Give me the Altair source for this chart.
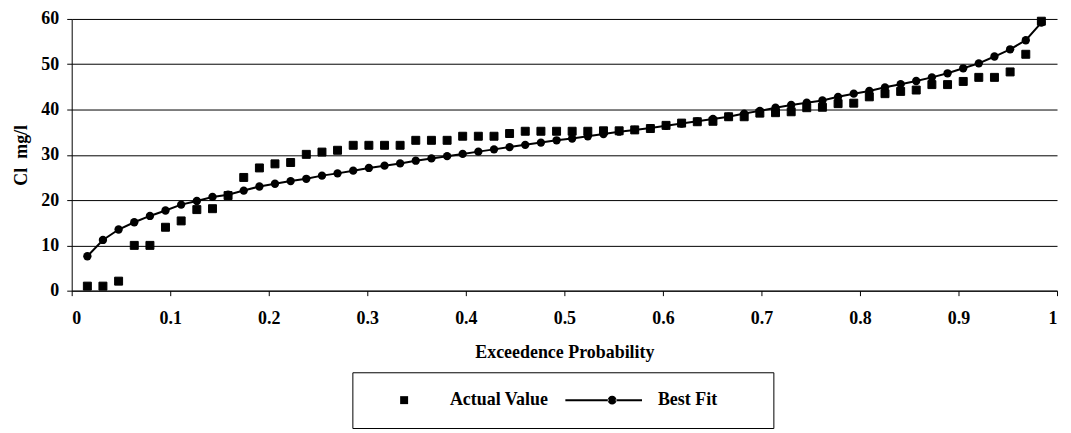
import altair as alt
import pandas as pd

# Exceedance probability plotting positions of the 62 samples
prob = [0.0159, 0.0317, 0.0476, 0.0635, 0.0794, 0.0952, 0.1111, 0.1270, 0.1429, 0.1587,
        0.1746, 0.1905, 0.2063, 0.2222, 0.2381, 0.2540, 0.2698, 0.2857, 0.3016, 0.3175,
        0.3333, 0.3492, 0.3651, 0.3810, 0.3968, 0.4127, 0.4286, 0.4444, 0.4603, 0.4762,
        0.4921, 0.5079, 0.5238, 0.5397, 0.5556, 0.5714, 0.5873, 0.6032, 0.6190, 0.6349,
        0.6508, 0.6667, 0.6825, 0.6984, 0.7143, 0.7302, 0.7460, 0.7619, 0.7778, 0.7937,
        0.8095, 0.8254, 0.8413, 0.8571, 0.8730, 0.8889, 0.9048, 0.9206, 0.9365, 0.9524,
        0.9683, 0.9841]

actual = [1, 1, 2.1, 10, 10, 14, 15.4, 17.9, 18.1, 21,
          25, 27.1, 28, 28.3, 30.1, 30.6, 31, 32.1, 32.1, 32.1,
          32.1, 33.2, 33.2, 33.2, 34.1, 34.1, 34.1, 34.7, 35.2, 35.2,
          35.2, 35.2, 35.2, 35.3, 35.3, 35.5, 35.8, 36.5, 37, 37.3,
          37.4, 38.4, 38.4, 39.2, 39.3, 39.5, 40.4, 40.5, 41.3, 41.4,
          42.8, 43.5, 44, 44.3, 45.5, 45.5, 46.2, 47.1, 47.1, 48.3,
          52.2, 59.5]

fit = [7.6, 11.2, 13.5, 15.1, 16.5, 17.7, 19.0, 19.8, 20.7, 21.2,
       22.1, 23.0, 23.6, 24.2, 24.7, 25.4, 25.9, 26.5, 27.1, 27.6,
       28.1, 28.7, 29.2, 29.7, 30.2, 30.7, 31.2, 31.7, 32.2, 32.7,
       33.2, 33.6, 34.1, 34.6, 35.1, 35.5, 35.9, 36.4, 36.9, 37.4,
       37.9, 38.4, 39.1, 39.7, 40.4, 41.0, 41.5, 42.0, 42.8, 43.5,
       44.1, 44.9, 45.6, 46.3, 47.1, 48.0, 49.1, 50.2, 51.7, 53.3,
       55.3, 59.2]

series_names = ["Actual Value", "Best Fit"]
x_ticks = [0, 0.1, 0.2, 0.3, 0.4, 0.5, 0.6, 0.7, 0.8, 0.9, 1]
y_ticks = [0, 10, 20, 30, 40, 50, 60]

FONT = "Liberation Serif"

actual_df = pd.DataFrame({"p": prob, "v": actual, "series": series_names[0]})
fit_df = pd.DataFrame({"p": prob, "v": fit, "series": series_names[1]})

x = alt.X("p:Q", scale=alt.Scale(domain=[0, 1], nice=False, zero=False),
          axis=alt.Axis(title="Exceedence Probability", values=x_ticks, format="~g",
                        grid=False, tickSize=5, labelPadding=14, titlePadding=16))
y = alt.Y("v:Q", scale=alt.Scale(domain=[0, 60], nice=False),
          axis=alt.Axis(title="Cl\u00a0\u00a0mg/l", values=y_ticks, grid=True,
                        tickSize=5, labelPadding=8, titlePadding=10))

# legend glyph for the fitted series (1 unit = 4 px): line pieces + dot, all filled;
# the leading move only widens the legend frame on the right
line_glyph = ("M35,0"
              "M-11.75,-0.25H-0.9V0.25H-11.75Z"
              "M0.9,-0.25H7.5V0.25H0.9Z"
              "M-1.1,0A1.1,1.1,0,1,0,1.1,0A1.1,1.1,0,1,0,-1.1,0Z")

legend = alt.Legend(
    title=None, orient="none", legendX=282, legendY=355, direction="horizontal",
    strokeColor="black", padding=19, fillColor="white",
    labelFont=FONT, labelFontSize=18, labelFontWeight="bold", labelColor="black",
    symbolOffset=24, labelOffset=37, columnPadding=14, symbolSize=64,
    symbolFillColor="black", symbolStrokeColor="black", symbolStrokeWidth=1.5,
)

line = alt.Chart(fit_df).mark_line(color="black", strokeWidth=2).encode(x=x, y=y)
dots = alt.Chart(fit_df).mark_point(shape="circle", filled=True, size=70,
                                    color="black", opacity=1).encode(x=x, y=y)
squares = alt.Chart(actual_df).mark_point(filled=True, size=64, color="black",
                                          stroke="black", strokeWidth=1,
                                          opacity=1).encode(
    x=x, y=y,
    shape=alt.Shape("series:N",
                    scale=alt.Scale(domain=series_names, range=["square", line_glyph]),
                    legend=legend),
)

chart = (
    alt.layer(squares, line, dots)
    .properties(width=990, height=273,
                autosize=alt.AutoSizeParams(type="none"),
                padding={"left": 64, "top": 10, "right": 6, "bottom": 139},
                background="white")
    .configure_view(stroke=None)
    .configure_axis(
        domainColor="black", domainWidth=1, tickColor="black", tickWidth=1,
        gridColor="black", gridOpacity=1, gridWidth=1,
        labelFont=FONT, labelFontSize=18, labelFontWeight="bold", labelColor="black",
        titleFont=FONT, titleFontSize=18, titleFontWeight="bold", titleColor="black",
    )
)

chart.save("out.html", embed_options={"renderer": "svg", "actions": False})
